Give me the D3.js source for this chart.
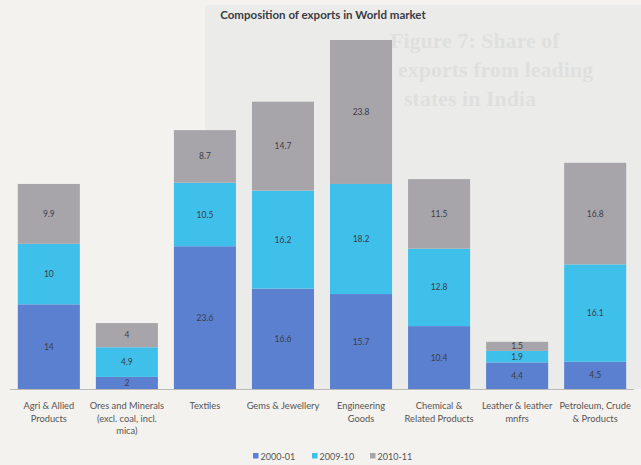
<!DOCTYPE html>
<html>
<head>
<meta charset="utf-8">
<script src="https://cdn.jsdelivr.net/npm/d3@7/dist/d3.min.js"></script>
<style>
  html, body { margin: 0; padding: 0; background: #f4f2ee; }
  svg { display: block; }
</style>
</head>
<body>
<svg id="chart" width="641" height="465"></svg>
<script>
// Export categories (each label split into its display lines)
const categories = [
  ["Agri & Allied", "Products"],
  ["Ores and Minerals", "(excl. coal, incl.", "mica)"],
  ["Textiles"],
  ["Gems & Jewellery"],
  ["Engineering", "Goods"],
  ["Chemical &", "Related Products"],
  ["Leather & leather", "mnfrs"],
  ["Petroleum, Crude", "& Products"]
];
const seriesNames = ["2000-01", "2009-10", "2010-11"];
const values2000 = [14, 2, 23.6, 16.6, 15.7, 10.4, 4.4, 4.5];
const values2009 = [10, 4.9, 10.5, 16.2, 18.2, 12.8, 1.9, 16.1];
const values2010 = [9.9, 4, 8.7, 14.7, 23.8, 11.5, 1.5, 16.8];
const seriesColors = ["#5b80d0", "#3fc0ea", "#a8a5aa"];

const svg = d3.select("#chart");
const W = 641, H = 465;
const baseY = 389;

// Page tone with the lighter panel behind the chart area
svg.append("rect").attr("width", W).attr("height", H).attr("fill", "#f4f2ee");
svg.append("rect").attr("x", 205).attr("y", 5).attr("width", W - 205).attr("height", baseY - 5)
  .attr("fill", "#ebecea");

// Faint print showing through from the page underneath
const ghost = svg.append("g").attr("fill", "#dfe0de")
  .attr("font-family", "'Liberation Serif', serif").attr("font-weight", "bold").attr("font-size", 22);
ghost.append("text").attr("x", 390).attr("y", 48).text("Figure 7: Share of");
ghost.append("text").attr("x", 398).attr("y", 77).text("exports from leading");
ghost.append("text").attr("x", 404).attr("y", 106).text("states in India");

const rows = categories.map((c, i) => ({
  key: i,
  "2000-01": values2000[i],
  "2009-10": values2009[i],
  "2010-11": values2010[i]
}));
const stacked = d3.stack().keys(seriesNames)(rows);

const x = d3.scaleBand()
  .domain(d3.range(categories.length))
  .range([10, 634])
  .paddingInner(0.205)
  .paddingOuter(0.1);

const maxTotal = d3.max(rows, r => r["2000-01"] + r["2009-10"] + r["2010-11"]);
const y = d3.scaleLinear().domain([0, maxTotal]).range([baseY, 40]);

// Stacked segments
const layers = svg.append("g").selectAll("g")
  .data(stacked).join("g")
  .attr("fill", (d, i) => seriesColors[i]);

layers.selectAll("rect")
  .data(d => d).join("rect")
  .attr("x", d => x(d.data.key))
  .attr("width", x.bandwidth())
  .attr("y", d => y(d[1]))
  .attr("height", d => y(d[0]) - y(d[1]));

// Value labels centred in each segment
layers.selectAll("text")
  .data(d => d.map(s => ({ s, v: s[1] - s[0] }))).join("text")
  .attr("x", d => x(d.s.data.key) + x.bandwidth() / 2)
  .attr("y", d => (y(d.s[0]) + y(d.s[1])) / 2 + 3)
  .attr("text-anchor", "middle")
  .attr("font-family", "Lato, 'Open Sans', sans-serif")
  .attr("font-size", 8.5)
  .attr("fill", "#3a3d48")
  .text(d => d3.format("~g")(d.v));

// Category axis line
svg.append("line")
  .attr("x1", 10).attr("x2", 634)
  .attr("y1", baseY + 0.5).attr("y2", baseY + 0.5)
  .attr("stroke", "#b9b9b9").attr("stroke-width", 1);

// Category labels
const xAxis = svg.append("g").attr("font-family", "Lato, 'Open Sans', sans-serif")
  .attr("font-size", 9.3).attr("fill", "#555");
categories.forEach((lines, i) => {
  const t = xAxis.append("text")
    .attr("x", x(i) + x.bandwidth() / 2)
    .attr("y", 409)
    .attr("text-anchor", "middle");
  lines.forEach((ln, j) => {
    t.append("tspan").attr("x", x(i) + x.bandwidth() / 2)
      .attr("dy", j === 0 ? 0 : 12.5).text(ln);
  });
});

// Title
svg.append("text")
  .attr("x", 323).attr("y", 19)
  .attr("text-anchor", "middle")
  .attr("font-family", "Lato, 'Open Sans', sans-serif")
  .attr("font-weight", "bold")
  .attr("font-size", 11.5)
  .attr("fill", "#3a3a44")
  .text("Composition of exports in World market");

// Legend
const legendX = [253, 312, 370];
const legend = svg.append("g").attr("font-family", "Lato, 'Open Sans', sans-serif")
  .attr("font-size", 9).attr("fill", "#555");
seriesNames.forEach((name, i) => {
  legend.append("rect").attr("x", legendX[i]).attr("y", 453)
    .attr("width", 5.5).attr("height", 5.5).attr("fill", seriesColors[i]);
  legend.append("text").attr("x", legendX[i] + 7.5).attr("y", 459.5).text(name);
});
</script>
</body>
</html>
